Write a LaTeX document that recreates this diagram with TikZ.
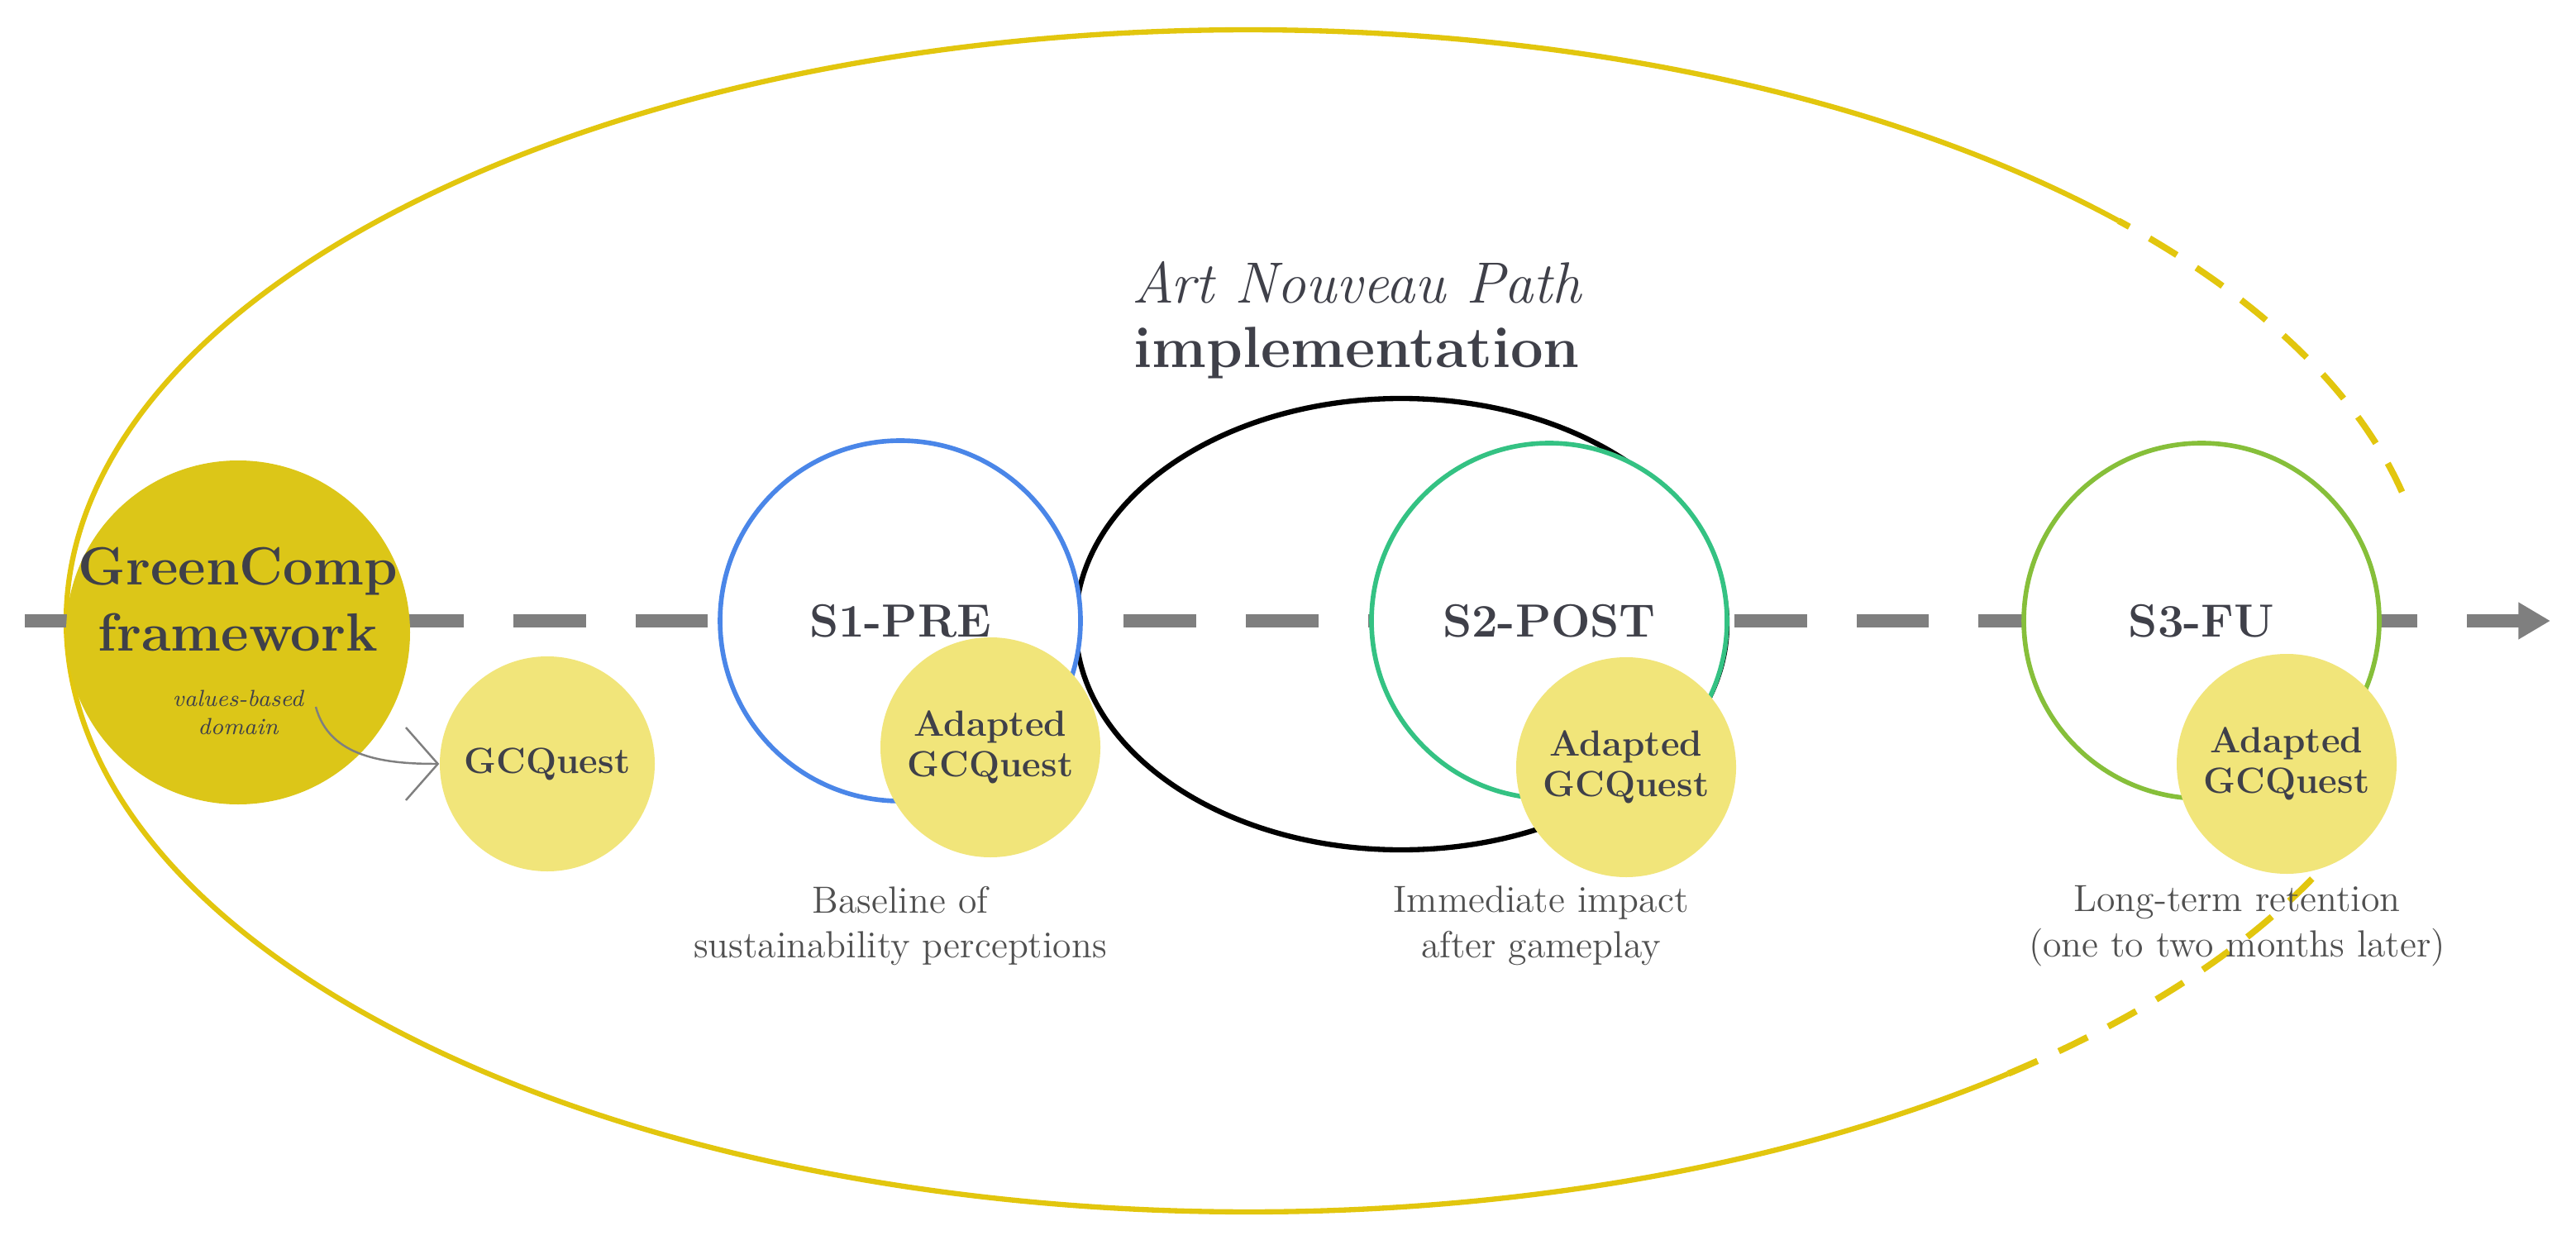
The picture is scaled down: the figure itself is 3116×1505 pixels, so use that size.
\documentclass[tikz,border=0pt]{standalone}
\usetikzlibrary{arrows.meta,shapes.geometric}
\definecolor{txt}{HTML}{3F4049}
\definecolor{gold}{HTML}{DCC618}
\definecolor{ering}{HTML}{E2C60E}
\definecolor{lyel}{HTML}{F1E57A}
\definecolor{axis}{HTML}{7F7F7F}
\definecolor{sblue}{HTML}{4A86E8}
\definecolor{sgreen}{HTML}{34C283}
\definecolor{sgreen3}{HTML}{86BF3A}
\definecolor{cap}{HTML}{505050}
\tikzset{
  stage/.style={circle,draw,line width=1.6pt,fill=white,minimum size=#1,inner sep=0pt,font=\bfseries\fontsize{16}{19}\selectfont,text=txt},
  quest/.style={circle,fill=lyel,minimum size=266*0.01cm,inner sep=0pt,align=center,font=\bfseries\fontsize{12.5}{14}\selectfont,text=txt},
  captxt/.style={align=center,font=\fontsize{13}{15.5}\selectfont,text=cap},
}
\begin{document}
\begin{tikzpicture}[x=0.01cm,y=0.01cm]
\useasboundingbox (0,0) rectangle (3116,1505);
% big ellipse
\draw[ering,line width=1.8pt] (1510,754) ++(42.6:1430 and 715) arc[start angle=42.6,end angle=310,x radius=1430,y radius=715];
\draw[ering,line width=2.2pt,dash pattern=on 11pt off 8pt] (1510,754) ++(310:1430 and 715) arc[start angle=310,end angle=344,x radius=1430,y radius=715];
\draw[ering,line width=2.2pt,dash pattern=on 11pt off 8pt] (1510,754) ++(12.6:1430 and 715) arc[start angle=12.6,end angle=42.6,x radius=1430,y radius=715];
% axis
\coordinate (a0) at (30,754);
\coordinate (a1) at (3085,754);
\draw[axis,line width=4.5pt,dash pattern=on 25pt off 17pt,-{Triangle[length=11pt,width=12pt]}] (a0) -- (a1);
% implementation ellipse
\node[ellipse,draw,line width=1.8pt,minimum width=788*0.01cm,minimum height=546*0.01cm] (imp) at (1695,750) {};
\node[stage=436*0.01cm,draw=sblue] (s1) at (1089,754) {S1-PRE};
\node[stage=430*0.01cm,draw=sgreen] (s2) at (1874,754) {S2-POST};
\node[stage=430*0.01cm,draw=sgreen3] (s3) at (2663,754) {S3-FU};
\node[quest] (q1) at (1198,601) {Adapted\\GCQuest};
\node[quest] (q2) at (1967,577) {Adapted\\GCQuest};
\node[quest] (q3) at (2766,581) {Adapted\\GCQuest};
% GreenComp
\node[circle,fill=gold,minimum size=416*0.01cm,inner sep=0pt] (gc) at (288,740) {};
\node[align=center,text=txt,font=\bfseries\fontsize{18.5}{23}\selectfont] (gct) at (288,780) {GreenComp\\framework};
\node[align=center,text=txt,font=\itshape\fontsize{8}{9.5}\selectfont] (vb) at (288,643) {values-based\\domain};
\node[circle,fill=lyel,minimum size=260*0.01cm,inner sep=0pt,text=txt,font=\bfseries\fontsize{12.5}{14}\selectfont] (gq) at (662,581) {GCQuest};
\coordinate (vbe) at (382,650);
\draw[axis,line width=0.7pt,-{Straight Barb[length=11pt,width=25pt]}] (vbe) to[out=-75,in=180] (gq.west);
% titles
\node[text=txt,font=\itshape\fontsize{20}{24}\selectfont] (t1) at (1641,1163) {Art Nouveau Path};
\node[text=txt,font=\bfseries\fontsize{20}{24}\selectfont] (t2) at (1641,1078) {implementation};
% captions
\node[captxt] (c1) at (1089,385) {Baseline of\\sustainability perceptions};
\node[captxt] (c2) at (1864,385) {Immediate impact\\after gameplay};
\node[captxt] (c3) at (2706,385) {Long-term retention\\(one to two months later)};
\end{tikzpicture}
\end{document}
